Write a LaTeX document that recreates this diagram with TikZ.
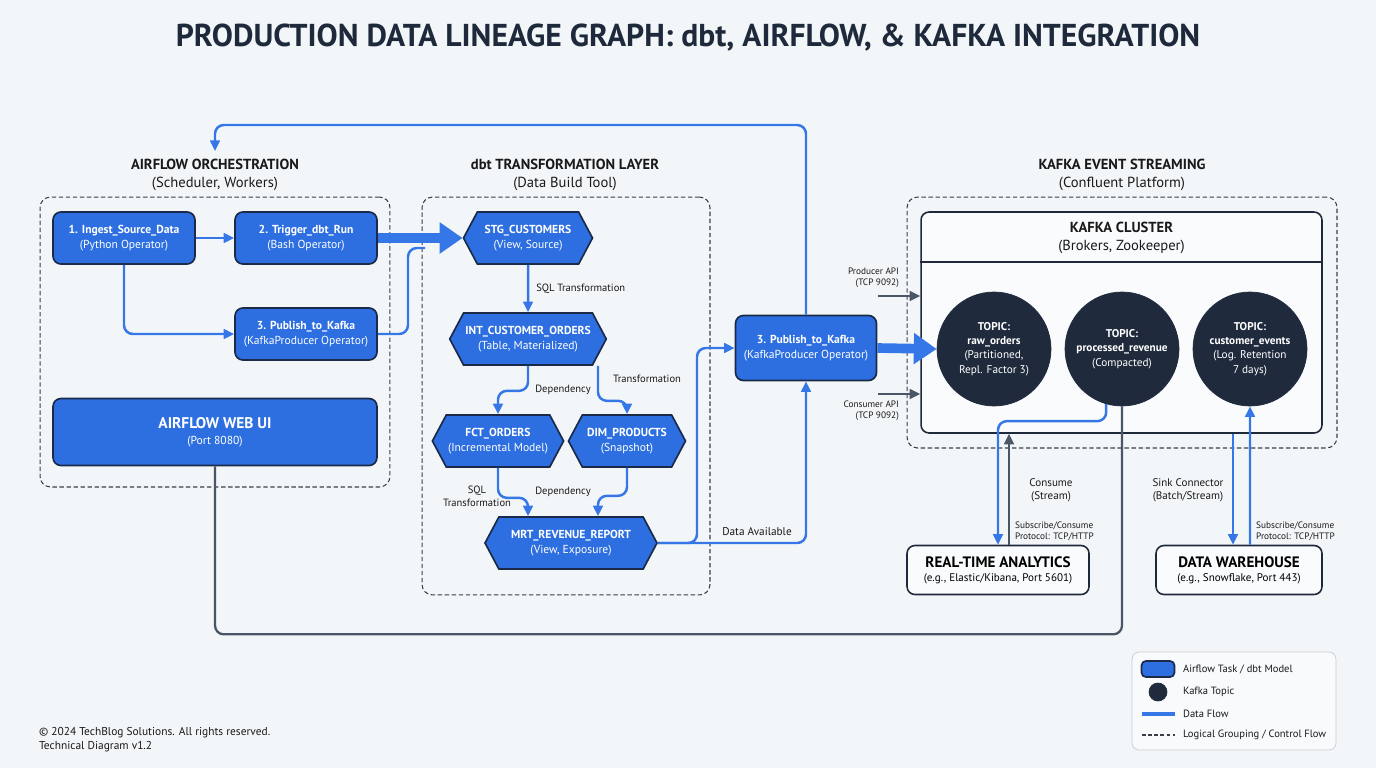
\documentclass[tikz,border=0pt]{standalone}
\usepackage{fontspec}
\setmainfont{PT Sans}
\usetikzlibrary{arrows.meta,positioning,calc,shapes.symbols}
\definecolor{paper}{HTML}{F3F6F9}
\definecolor{inkdark}{HTML}{1E2A3B}
\definecolor{taskblue}{HTML}{2D6FE0}
\definecolor{flowblue}{HTML}{3577E6}
\definecolor{nodeedge}{HTML}{1B2A48}
\definecolor{topicnavy}{HTML}{1F2A3C}
\definecolor{apigray}{HTML}{4A5566}
\definecolor{grpline}{HTML}{3A3F47}
\definecolor{lgline}{HTML}{C8CDD4}
\tikzset{
  >={Triangle[length=6pt,width=5.5pt]},
  % texter
  ttl/.style={font=\fontsize{18}{21}\selectfont\bfseries,text=inkdark},
  hdr/.style={font=\fontsize{8.3}{10}\selectfont,align=center,text=black!90},
  lbl/.style={font=\fontsize{6}{7.2}\selectfont,align=center,text=black!90,inner sep=1pt},
  apil/.style={font=\fontsize{5.3}{6.4}\selectfont,align=right,text=black!90,inner sep=1pt},
  % grupper
  grp/.style={draw=grpline,dash pattern=on 2.5pt off 1.5pt,line width=0.6pt,rounded corners=6pt},
  wbox/.style={draw=inkdark,fill=white!60!paper,line width=0.9pt,rounded corners=4.5pt},
  % noder
  af/.style={draw=nodeedge,fill=taskblue,text=white,line width=0.95pt,rounded corners=4.5pt,
             minimum width=2.84cm,minimum height=1.04cm,align=center,inner sep=2pt,
             font=\fontsize{6.6}{8.2}\selectfont},
  dm/.style={signal,signal to=east and west,signal pointer angle=124,draw=nodeedge,
             fill=taskblue,text=white,line width=0.95pt,minimum height=1.04cm,
             align=center,inner sep=1pt,font=\fontsize{6.6}{8.2}\selectfont},
  tp/.style={circle,draw=topicnavy,fill=topicnavy,text=white,minimum size=2.28cm,
             align=center,inner sep=0pt,font=\fontsize{6.4}{8.2}\selectfont},
  sink/.style={wbox,minimum height=0.98cm,align=center,font=\fontsize{6.3}{8}\selectfont},
  % flöden
  df/.style={draw=flowblue,line width=1.4pt,rounded corners=5pt},
  big/.style={draw=flowblue,line width=5.5pt,-{Triangle[length=13pt,width=17pt]}},
  api/.style={draw=apigray,line width=1.3pt,rounded corners=5pt},
}
\begin{document}
\begin{tikzpicture}[x=0.02cm,y=-0.02cm]
  \fill[paper] (0,0) rectangle (1376,768);
  \useasboundingbox (0,0) rectangle (1376,768);
  \node[ttl] (title) at (688,38) {PRODUCTION DATA LINEAGE GRAPH: dbt, AIRFLOW, \& KAFKA INTEGRATION};
  % grupper
  \node[grp,minimum width=7cm,minimum height=5.8cm] (afgrp) at (215,342) {};
  \node[hdr] (afhd) at (215,175) {\textbf{AIRFLOW ORCHESTRATION}\\(Scheduler, Workers)};
  \node[grp,minimum width=5.76cm,minimum height=7.96cm] (dbtgrp) at (566,396) {};
  \node[hdr] (dbthd) at (565,175) {\textbf{dbt TRANSFORMATION LAYER}\\(Data Build Tool)};
  \node[grp,minimum width=8.6cm,minimum height=5.02cm] (kgrp) at (1122,322.5) {};
  \node[hdr] (khd) at (1122,175) {\textbf{KAFKA EVENT STREAMING}\\(Confluent Platform)};
  \node[wbox,minimum width=8.02cm,minimum height=4.42cm] (cluster) at (1121.5,322.5) {};
  \draw[draw=inkdark,line width=0.9pt] ([yshift=-1.02cm]cluster.north west) -- ([yshift=-1.02cm]cluster.north east);
  \node[hdr] (clhd) at (1121.5,238) {\textbf{KAFKA CLUSTER}\\(Brokers, Zookeeper)};
  % airflow
  \node[af] (ingest) at (124,238) {\textbf{1. Ingest\_Source\_Data}\\(Python Operator)};
  \node[af] (trigger) at (306,238) {\textbf{2. Trigger\_dbt\_Run}\\(Bash Operator)};
  \node[af] (pubA) at (306,334) {\textbf{3. Publish\_to\_Kafka}\\(KafkaProducer Operator)};
  \node[af,minimum width=6.48cm,minimum height=1.34cm,font=\fontsize{6.6}{9}\selectfont] (webui) at (215,432)
    {{\fontsize{8.8}{10}\selectfont\bfseries AIRFLOW WEB UI}\\(Port 8080)};
  % dbt
  \node[dm,minimum width=2.58cm] (stg) at (528,238) {\textbf{STG\_CUSTOMERS}\\(View, Source)};
  \node[dm,minimum width=3.12cm] (int) at (528,339) {\textbf{INT\_CUSTOMER\_ORDERS}\\(Table, Materialized)};
  \node[dm,minimum width=2.46cm] (fct) at (498,441) {\textbf{FCT\_ORDERS}\\(Incremental Model)};
  \node[dm,minimum width=2.34cm] (dim) at (627,441) {\textbf{DIM\_PRODUCTS}\\(Snapshot)};
  \node[dm,minimum width=3.44cm] (mrt) at (571,543) {\textbf{MRT\_REVENUE\_REPORT}\\(View, Exposure)};
  \node[af,minimum width=2.82cm,minimum height=1.3cm] (pubB) at (806,348) {\textbf{3. Publish\_to\_Kafka}\\(KafkaProducer Operator)};
  % kafka
  \node[tp] (raw) at (994,349) {\textbf{TOPIC:}\\\textbf{raw\_orders}\\(Partitioned,\\Repl. Factor 3)};
  \node[tp] (rev) at (1122,349) {\textbf{TOPIC:}\\\textbf{processed\_revenue}\\(Compacted)};
  \node[tp] (evt) at (1250,349) {\textbf{TOPIC:}\\\textbf{customer\_events}\\(Log. Retention\\7 days)};
  \node[sink,minimum width=3.64cm] (rta) at (998,570)
    {{\fontsize{8.6}{10}\selectfont\bfseries REAL-TIME ANALYTICS}\\(e.g., Elastic/Kibana, Port 5601)};
  \node[sink,minimum width=3.32cm] (dw) at (1239,570)
    {{\fontsize{8.6}{10}\selectfont\bfseries DATA WAREHOUSE}\\(e.g., Snowflake, Port 443)};
  % kopplingar
  \coordinate (mergeA) at (425,248);
  \coordinate (loopTop) at (215,125);
  \coordinate (ctrlIn) at (215,151);
  \coordinate (prodS) at (878,296);
  \coordinate (consS) at (878,394);
  \draw[df,->] (ingest) -- (trigger);
  \draw[df,->] (ingest.south) |- (pubA.west);
  \draw[big] (trigger.east) -- (stg.west);
  \draw[df] (pubA.east) -| (408,248) -- (mergeA);
  \draw[df,->] (stg) -- node[lbl,right=3pt] (lbSql) {SQL Transformation} (int);
  \draw[df,->] (int.south) -- ++(0,25) -| (fct.north);
  \draw[df,->] ([xshift=1.4cm]int.south) -- ++(0,35) -| (dim.north);
  \draw[df,->] (fct.south) -- ++(0,30) -| ([xshift=-0.86cm]mrt.north);
  \draw[df,->] (dim.south) -- ++(0,28) -| ([xshift=0.54cm]mrt.north);
  \node[lbl] (lbDep1) at (563,390) {Dependency};
  \node[lbl] (lbTr) at (647,379) {Transformation};
  \node[lbl] (lbSql2) at (477,496) {SQL\\Transformation};
  \node[lbl] (lbDep2) at (563,492) {Dependency};
  \draw[df,->] (mrt.east) -- (697,543) |- (pubB.west);
  \draw[df,->] (mrt.east) -| (pubB.south);
  \node[lbl,font=\fontsize{6.4}{7.5}\selectfont] (lbAvail) at (757,532) {Data Available};
  \draw[df,->] (pubB.north) |- (loopTop) -- (ctrlIn);
  \draw[big] (pubB.east) -- (raw.west);
  \draw[api,->] (prodS) -- (prodS -| cluster.west);
  \draw[api,->] (consS) -- (consS -| cluster.west);
  \node[apil,anchor=east] (lbProd) at (901,278) {Producer API\\(TCP 9092)};
  \node[apil,anchor=east] (lbCons) at (901,411) {Consumer API\\(TCP 9092)};
  \draw[df,->] (rev.-106) -- ++(0,17) -| (rta.north);
  \draw[api,->] ([xshift=0.22cm]rta.north) -- ([xshift=0.22cm]rta.north |- cluster.south);
  \draw[api] (rev.south) -- ++(0,228) -| (webui.south);
  \draw[df,->] ([xshift=-0.12cm]dw.north |- cluster.south) -- ([xshift=-0.12cm]dw.north);
  \draw[df,->] ([xshift=0.22cm]dw.north) -- (evt.south);
  \node[lbl,font=\fontsize{6.3}{7.6}\selectfont] (lbConsume) at (1051,490) {Consume\\(Stream)};
  \node[lbl,font=\fontsize{6.3}{7.6}\selectfont] (lbSinkC) at (1188,490) {Sink Connector\\(Batch/Stream)};
  \node[apil,align=left,anchor=west] (lbSub1) at (1013,531) {Subscribe/Consume\\Protocol: TCP/HTTP};
  \node[apil,align=left,anchor=west] (lbSub2) at (1254,531) {Subscribe/Consume\\Protocol: TCP/HTTP};
  % legend
  \node[draw=lgline,fill=white!50!paper,rounded corners=4pt,minimum width=4.08cm,minimum height=1.96cm] (legend) at (1234,701) {};
  \node[af,minimum width=0.66cm,minimum height=0.32cm,rounded corners=2.5pt] (lgTask) at (1158,669) {};
  \node[tp,minimum size=0.36cm] (lgTopic) at (1158,692) {};
  \coordinate (lgFlowA) at (1142,714);
  \coordinate (lgFlowB) at (1175,714);
  \coordinate (lgDashA) at (1142,735);
  \coordinate (lgDashB) at (1175,735);
  \draw[draw=flowblue,line width=2.3pt] (lgFlowA) -- (lgFlowB);
  \draw[grpline,dash pattern=on 2pt off 1.5pt,line width=0.6pt] (lgDashA) -- (lgDashB);
  \node[lbl,anchor=west] (lgTaskT) at (1181,669) {Airflow Task / dbt Model};
  \node[lbl,anchor=west] (lgTopicT) at (1181,692) {Kafka Topic};
  \node[lbl,anchor=west] (lgFlowT) at (1181,714) {Data Flow};
  \node[lbl,anchor=west] (lgDashT) at (1181,735) {Logical Grouping / Control Flow};
  % fot
  \node[lbl,align=left,anchor=west,font=\fontsize{6.5}{8}\selectfont] (foot) at (37,740)
    {© 2024 TechBlog Solutions. All rights reserved.\\Technical Diagram v1.2};
\end{tikzpicture}
\end{document}
